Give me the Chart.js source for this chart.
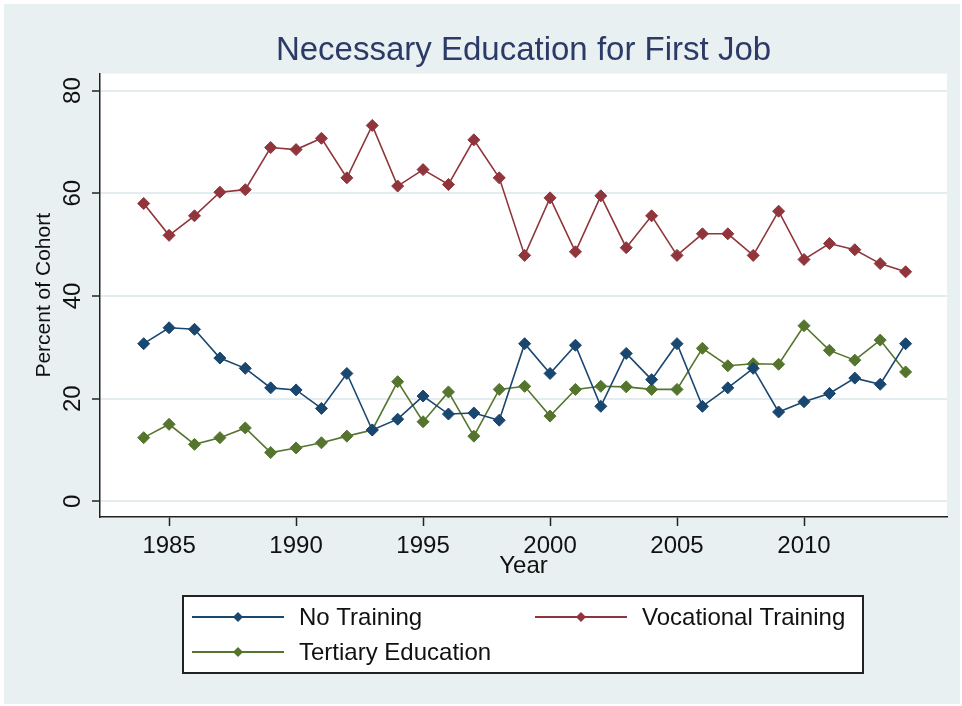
<!DOCTYPE html>
<html>
<head>
<meta charset="utf-8">
<title>Necessary Education for First Job</title>
<script src="https://cdn.jsdelivr.net/npm/chart.js@4.4.1/dist/chart.umd.min.js"></script>
<style>
  html, body { margin: 0; padding: 0; background: #fff; }
  canvas { display: block; }
</style>
</head>
<body>
<canvas id="chart" width="962" height="706"></canvas>
<script>
// Data
var years = [1984, 1985, 1986, 1987, 1988, 1989, 1990, 1991, 1992, 1993, 1994, 1995, 1996, 1997, 1998, 1999,
             2000, 2001, 2002, 2003, 2004, 2005, 2006, 2007, 2008, 2009, 2010, 2011, 2012, 2013, 2014]
var noTraining = [30.7, 33.8, 33.5, 27.9, 25.9, 22.1, 21.7, 18.1, 24.9, 13.9, 16.0, 20.5, 17.0, 17.2, 15.8, 30.7,
                  24.9, 30.4, 18.5, 28.8, 23.7, 30.7, 18.5, 22.1, 25.9, 17.4, 19.4, 21.0, 24.0, 22.8, 30.7]
var vocational = [58.0, 51.8, 55.6, 60.2, 60.7, 68.9, 68.5, 70.7, 63.0, 73.2, 61.4, 64.6, 61.7, 70.4, 63.0, 47.9,
                  59.1, 48.6, 59.5, 49.4, 55.6, 47.9, 52.1, 52.1, 47.9, 56.5, 47.1, 50.2, 49.0, 46.3, 44.7]
var tertiary = [12.4, 15.0, 11.1, 12.4, 14.3, 9.5, 10.4, 11.4, 12.7, 13.9, 23.3, 15.5, 21.3, 12.7, 21.8, 22.4,
                16.6, 21.8, 22.4, 22.3, 21.8, 21.8, 29.8, 26.4, 26.8, 26.7, 34.2, 29.4, 27.5, 31.4, 25.2]
var seriesNames = ['No Training', 'Vocational Training', 'Tertiary Education']
var seriesColors = ['#1a476f', '#90353b', '#55752f']
var xTicks = [1985, 1990, 1995, 2000, 2005, 2010]
var yTicks = [0, 20, 40, 60, 80]

var FONT = '"Liberation Sans", Arial, sans-serif'
var BG = '#e9f0f2'

function toPoints(vals) {
    return years.map((yr, i) => ({ x: yr, y: vals[i] }))
}

var datasets = [noTraining, vocational, tertiary].map((vals, i) => ({
    label: seriesNames[i],
    data: toPoints(vals),
    borderColor: seriesColors[i],
    backgroundColor: seriesColors[i],
    borderWidth: 1.6,
    pointStyle: 'rectRot',
    pointRadius: 6,
    pointBorderWidth: 1,
    pointBackgroundColor: seriesColors[i],
    pointBorderColor: seriesColors[i],
    tension: 0
}))

// backgrounds + legend box (stata style)
var stataLook = {
    id: 'stataLook',
    beforeDraw(chart) {
        var ctx = chart.ctx, a = chart.chartArea
        ctx.save()
        ctx.fillStyle = '#fff'
        ctx.fillRect(0, 0, chart.width, chart.height)
        ctx.fillStyle = BG
        ctx.fillRect(4, 4, chart.width - 6, chart.height - 6)
        ctx.fillStyle = '#fff'
        ctx.fillRect(a.left, a.top, a.right - a.left, a.bottom - a.top)
        ctx.restore()
    },
    afterDraw(chart) {
        var ctx = chart.ctx
        ctx.save()
        ctx.fillStyle = '#fff'
        ctx.fillRect(183, 596, 680, 77)
        ctx.strokeStyle = '#222'
        ctx.lineWidth = 2
        ctx.strokeRect(183, 596, 680, 77)
        var slots = [[192, 617], [535, 617], [192, 652]]
        chart.data.datasets.forEach((ds, i) => {
            var x = slots[i][0], y = slots[i][1]
            ctx.strokeStyle = ds.borderColor
            ctx.lineWidth = 2
            ctx.beginPath()
            ctx.moveTo(x, y)
            ctx.lineTo(x + 92, y)
            ctx.stroke()
            ctx.fillStyle = ds.borderColor
            ctx.beginPath()
            ctx.moveTo(x + 46, y - 5)
            ctx.lineTo(x + 51, y)
            ctx.lineTo(x + 46, y + 5)
            ctx.lineTo(x + 41, y)
            ctx.closePath()
            ctx.fill()
            ctx.fillStyle = '#111'
            ctx.font = '24px ' + FONT
            ctx.textBaseline = 'middle'
            ctx.textAlign = 'left'
            ctx.fillText(ds.label, x + 107, y + 1)
        })
        ctx.restore()
    }
}

new Chart(document.getElementById('chart'), {
    type: 'line',
    data: { datasets: datasets },
    plugins: [stataLook],
    options: {
        responsive: false,
        animation: false,
        layout: { padding: { top: 5, left: 10, right: 15, bottom: 125 } },
        plugins: {
            legend: { display: false },
            tooltip: { enabled: false },
            title: {
                display: true,
                text: 'Necessary Education for First Job',
                fullSize: false,
                color: '#2b3a66',
                font: { family: FONT, size: 33, weight: 'normal', lineHeight: 1.2 },
                padding: { top: 26, bottom: 3 }
            }
        },
        scales: {
            x: {
                type: 'linear',
                min: 1982.28,
                max: 2015.63,
                afterBuildTicks: s => { s.ticks = xTicks.map(v => ({ value: v })) },
                afterFit: s => { s.height = 64 },
                ticks: {
                    color: '#111',
                    font: { family: FONT, size: 24 },
                    padding: 6,
                    maxRotation: 0,
                    callback: v => String(v)
                },
                grid: { drawOnChartArea: false, drawTicks: true, tickLength: 9, tickColor: '#222', tickWidth: 1.5 },
                border: { display: true, color: '#222', width: 1.5 },
                title: {
                    display: true,
                    text: 'Year',
                    color: '#111',
                    font: { family: FONT, size: 24, lineHeight: 1.2 },
                    padding: { top: 0, bottom: 0 }
                }
            },
            y: {
                min: -3.05,
                max: 83.3,
                afterBuildTicks: s => { s.ticks = yTicks.map(v => ({ value: v })) },
                afterFit: s => { s.width = 90 },
                ticks: {
                    color: '#111',
                    font: { family: FONT, size: 24 },
                    minRotation: 90,
                    maxRotation: 90,
                    crossAlign: 'center',
                    padding: 5
                },
                grid: { color: '#e3ecef', lineWidth: 2, tickLength: 8, tickColor: '#222', tickWidth: 1.5 },
                border: { display: true, color: '#222', width: 1.5 },
                title: {
                    display: true,
                    text: 'Percent of Cohort',
                    color: '#111',
                    font: { family: FONT, size: 21, lineHeight: 1.2 },
                    padding: { top: 22, bottom: 0 }
                }
            }
        }
    }
})
</script>
</body>
</html>
